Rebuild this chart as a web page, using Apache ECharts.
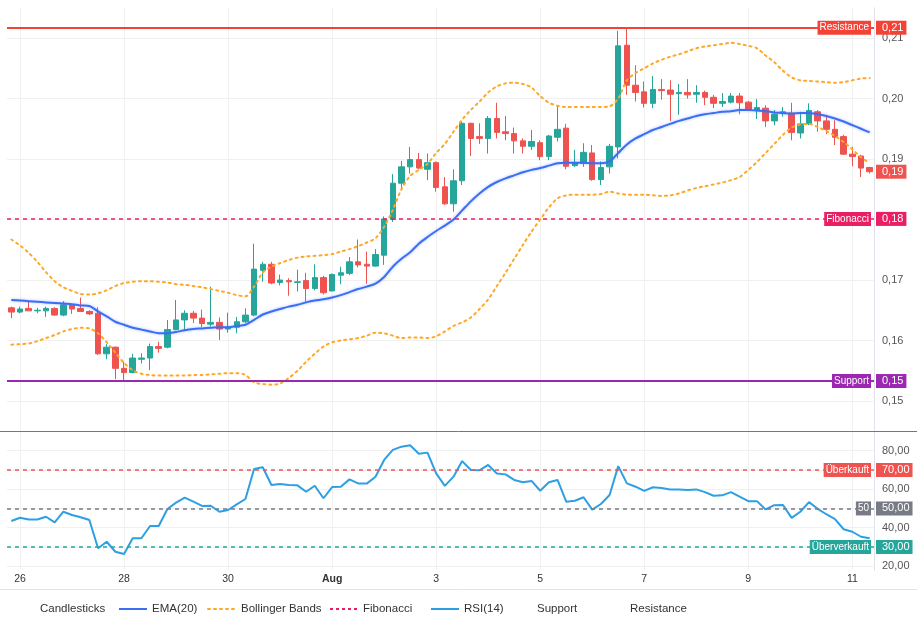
<!DOCTYPE html>
<html>
<head>
<meta charset="utf-8">
<title>Kurs 4h</title>
<script src="https://cdn.jsdelivr.net/npm/echarts/dist/echarts.min.js"></script>
<style>
  html, body { margin: 0; padding: 0; background: #fff; }
  #chart { width: 917px; height: 620px; }
</style>
</head>
<body>
<div id="chart"></div>
<script>
// 4h-Kerzen ab 25.07. 20:00 (100 Stück)
var opens = [0.1654,0.1647,0.1653,0.1649,0.1649,0.1653,0.1642,0.1659,0.1653,0.1648,
  0.1645,0.1578,0.1589,0.1554,0.1547,0.1569,0.1571,0.1590,0.1589,0.1618,
  0.1634,0.1645,0.1637,0.1627,0.1630,0.1619,0.1622,0.1631,0.1642,0.1716,
  0.1726,0.1696,0.1699,0.1696,0.1699,0.1686,0.1704,0.1682,0.1708,0.1711,
  0.1730,0.1726,0.1723,0.1741,0.1800,0.1860,0.1887,0.1899,0.1883,0.1894,
  0.1854,0.1826,0.1864,0.1959,0.1937,0.1934,0.1967,0.1945,0.1942,0.1930,
  0.1921,0.1927,0.1904,0.1936,0.1951,0.1889,0.1893,0.1910,0.1866,0.1887,
  0.1920,0.2088,0.2022,0.2011,0.1992,0.2015,0.2014,0.2008,0.2010,0.2007,
  0.2010,0.2002,0.1992,0.1994,0.2004,0.1994,0.1981,0.1984,0.1963,0.1975,
  0.1976,0.1943,0.1958,0.1978,0.1963,0.1949,0.1937,0.1908,0.1905,0.1886];
var closes = [0.1647,0.1652,0.1649,0.1650,0.1653,0.1642,0.1659,0.1652,0.1648,0.1644,
  0.1578,0.1589,0.1554,0.1547,0.1571,0.1571,0.1590,0.1587,0.1618,0.1634,
  0.1645,0.1637,0.1628,0.1630,0.1619,0.1622,0.1631,0.1642,0.1718,0.1726,
  0.1695,0.1700,0.1697,0.1697,0.1686,0.1704,0.1679,0.1709,0.1712,0.1730,
  0.1725,0.1723,0.1742,0.1801,0.1860,0.1887,0.1899,0.1885,0.1894,0.1853,
  0.1826,0.1864,0.1959,0.1934,0.1934,0.1967,0.1944,0.1942,0.1930,0.1921,
  0.1929,0.1904,0.1938,0.1949,0.1888,0.1894,0.1911,0.1866,0.1886,0.1921,
  0.2087,0.2022,0.2010,0.1992,0.2015,0.2013,0.2007,0.2010,0.2006,0.2010,
  0.2002,0.1992,0.1995,0.2004,0.1993,0.1981,0.1985,0.1963,0.1974,0.1978,
  0.1944,0.1958,0.1980,0.1963,0.1949,0.1936,0.1908,0.1904,0.1885,0.1879];
var lows = [0.1637,0.1645,0.1649,0.1645,0.1639,0.1641,0.1640,0.1644,0.1647,0.1642,
  0.1576,0.1569,0.1536,0.1534,0.1546,0.1562,0.1551,0.1580,0.1587,0.1617,
  0.1617,0.1629,0.1622,0.1623,0.1601,0.1613,0.1612,0.1629,0.1640,0.1697,
  0.1693,0.1691,0.1674,0.1681,0.1664,0.1683,0.1676,0.1681,0.1693,0.1708,
  0.1721,0.1694,0.1722,0.1725,0.1796,0.1849,0.1876,0.1883,0.1865,0.1846,
  0.1824,0.1813,0.1857,0.1905,0.1925,0.1909,0.1934,0.1931,0.1909,0.1909,
  0.1915,0.1898,0.1898,0.1929,0.1883,0.1887,0.1887,0.1864,0.1857,0.1876,
  0.1901,0.2006,0.1995,0.1985,0.1984,0.1998,0.1963,0.1973,0.2000,0.1993,
  0.1989,0.1984,0.1986,0.1992,0.1974,0.1980,0.1966,0.1953,0.1956,0.1970,
  0.1931,0.1934,0.1956,0.1945,0.1941,0.1923,0.1907,0.1888,0.1870,0.1876];
var highs = [0.1656,0.1656,0.1666,0.1654,0.1656,0.1655,0.1665,0.1660,0.1671,0.1650,
  0.1655,0.1594,0.1590,0.1565,0.1578,0.1579,0.1595,0.1598,0.1634,0.1667,
  0.1650,0.1649,0.1651,0.1689,0.1638,0.1646,0.1639,0.1653,0.1760,0.1730,
  0.1730,0.1709,0.1703,0.1717,0.1712,0.1726,0.1707,0.1711,0.1722,0.1738,
  0.1767,0.1747,0.1751,0.1805,0.1875,0.1897,0.1920,0.1910,0.1909,0.1896,
  0.1870,0.1883,0.1962,0.1960,0.1959,0.1971,0.1993,0.1971,0.1952,0.1934,
  0.1948,0.1931,0.1940,0.1989,0.1958,0.1915,0.1926,0.1923,0.1896,0.1925,
  0.2112,0.2118,0.2055,0.2028,0.2037,0.2032,0.2030,0.2024,0.2032,0.2022,
  0.2013,0.2006,0.2009,0.2009,0.2009,0.1996,0.1999,0.1989,0.1981,0.1986,
  0.1993,0.1978,0.1992,0.1981,0.1973,0.1964,0.1940,0.1920,0.1907,0.1887];

// Indikatoren
var ema20 = [0.1667,0.1666,0.1665,0.1664,0.1663,0.1662,0.1661,0.1660,0.1658,0.1657,
  0.1648,0.1640,0.1631,0.1626,0.1621,0.1618,0.1615,0.1612,0.1612,0.1614,
  0.1617,0.1619,0.1620,0.1621,0.1622,0.1622,0.1624,0.1626,0.1634,0.1643,
  0.1648,0.1652,0.1656,0.1659,0.1663,0.1666,0.1668,0.1671,0.1675,0.1680,
  0.1685,0.1689,0.1694,0.1705,0.1722,0.1735,0.1746,0.1760,0.1771,0.1781,
  0.1790,0.1800,0.1815,0.1830,0.1843,0.1854,0.1862,0.1868,0.1873,0.1878,
  0.1882,0.1885,0.1889,0.1893,0.1894,0.1894,0.1894,0.1893,0.1893,0.1896,
  0.1910,0.1924,0.1934,0.1941,0.1948,0.1953,0.1958,0.1963,0.1967,0.1971,
  0.1974,0.1976,0.1978,0.1979,0.1981,0.1981,0.1980,0.1979,0.1977,0.1976,
  0.1975,0.1976,0.1976,0.1974,0.1971,0.1967,0.1962,0.1956,0.1950,0.1944];
var bbUpper = [0.1767,0.1757,0.1745,0.1730,0.1713,0.1698,0.1688,0.1682,0.1677,0.1676,
  0.1678,0.1683,0.1690,0.1695,0.1697,0.1698,0.1698,0.1697,0.1696,0.1693,
  0.1692,0.1690,0.1688,0.1685,0.1682,0.1679,0.1675,0.1673,0.1689,0.1712,
  0.1722,0.1728,0.1733,0.1737,0.1739,0.1740,0.1741,0.1743,0.1747,0.1751,
  0.1756,0.1762,0.1769,0.1788,0.1816,0.1850,0.1872,0.1882,0.1892,0.1910,
  0.1925,0.1945,0.1965,0.1981,0.1995,0.2010,0.2020,0.2025,0.2026,0.2024,
  0.2018,0.2004,0.1993,0.1988,0.1986,0.1986,0.1986,0.1986,0.1986,0.1987,
  0.2000,0.2030,0.2042,0.2050,0.2058,0.2064,0.2069,0.2073,0.2078,0.2083,
  0.2086,0.2088,0.2090,0.2092,0.2090,0.2087,0.2083,0.2071,0.2060,0.2046,
  0.2035,0.2030,0.2029,0.2028,0.2027,0.2026,0.2027,0.2030,0.2033,0.2034];
var bbLower = [0.1593,0.1594,0.1595,0.1599,0.1604,0.1609,0.1615,0.1619,0.1621,0.1620,
  0.1612,0.1597,0.1580,0.1563,0.1551,0.1545,0.1543,0.1542,0.1542,0.1542,
  0.1542,0.1543,0.1543,0.1544,0.1545,0.1546,0.1546,0.1543,0.1531,0.1528,
  0.1527,0.1529,0.1538,0.1550,0.1565,0.1578,0.1590,0.1597,0.1600,0.1602,
  0.1604,0.1608,0.1613,0.1612,0.1608,0.1604,0.1605,0.1605,0.1604,0.1607,
  0.1615,0.1624,0.1630,0.1638,0.1652,0.1668,0.1690,0.1712,0.1735,0.1758,
  0.1780,0.1800,0.1820,0.1835,0.1840,0.1841,0.1841,0.1841,0.1842,0.1846,
  0.1843,0.1841,0.1841,0.1841,0.1840,0.1839,0.1840,0.1843,0.1848,0.1852,
  0.1855,0.1858,0.1861,0.1865,0.1870,0.1882,0.1895,0.1910,0.1925,0.1940,
  0.1952,0.1957,0.1958,0.1953,0.1946,0.1938,0.1928,0.1916,0.1903,0.1893];
var rsi14 = [43.5,45.2,44.3,44.3,45.7,42.8,48.3,46.6,45.4,44.0,
  29.3,32.7,27.5,26.3,34.5,34.5,40.9,40.9,49.7,53.0,
  55.6,53.5,51.3,51.4,48.3,49.2,52.1,54.9,70.5,71.4,
  62.2,62.7,62.2,62.0,58.7,61.8,55.3,61.1,61.3,65.1,
  63.0,62.9,66.5,75.2,80.4,82.1,82.8,78.4,79.0,68.2,
  61.7,66.5,74.6,70.0,69.8,72.6,68.2,67.7,64.8,63.6,
  64.3,59.2,63.6,64.8,53.5,54.0,55.8,49.4,52.3,57.0,
  72.0,63.0,61.3,59.1,61.0,60.6,59.9,59.9,59.6,59.9,
  58.5,56.6,56.8,58.5,56.1,53.8,53.8,49.5,51.7,51.8,
  45.1,48.3,53.3,49.8,47.0,44.5,39.2,37.9,35.3,34.5];

// Level
var resistanceLevel = 0.2117;
var supportLevel = 0.1533;
var fibLevel = 0.1801;
var overboughtLevel = 70;
var midLevel = 50;
var oversoldLevel = 30;

var startTime = Date.UTC(2024, 6, 25, 20, 0); // erste Kerze
var monthNames = ['Jan', 'Feb', 'Mar', 'Apr', 'May', 'Jun', 'Jul', 'Aug', 'Sep', 'Oct', 'Nov', 'Dec'];
var legendNames = ['Candlesticks', 'EMA(20)', 'Bollinger Bands', 'Fibonacci', 'RSI(14)', 'Support', 'Resistance'];
var legendLeft = [7, 118, 207, 329, 430, 504, 597];

function pad(n) { return n < 10 ? '0' + n : '' + n; }

var categories = opens.map(function (o, i) {
  var d = new Date(startTime + i * 4 * 3600 * 1000);
  return d.getUTCFullYear() + '-' + pad(d.getUTCMonth() + 1) + '-' + pad(d.getUTCDate()) + ' ' + pad(d.getUTCHours()) + ':00';
});
var candles = opens.map(function (o, i) { return [o, closes[i], lows[i], highs[i]]; });

var UP = '#26a69a', DOWN = '#ef5350';
var FONT = 'Liberation Sans, Arial, sans-serif';
var HIDDEN = 'rgba(0,0,0,0)';

function comma(v, digits) { return v.toFixed(digits).replace('.', ','); }

// nur Tagesbeginn jedes zweiten Tages beschriften
function dayTick(index) { return index % 12 === 1; }

// Namensschild im Chart
function nameTag(text, bg) {
  return {
    show: true, position: 'insideEnd', formatter: text, distance: 3,
    color: '#fff', backgroundColor: bg, fontFamily: FONT, fontSize: 10,
    lineHeight: 11, padding: [2, 2, 1, 2]
  };
}
// Wertschild auf der Preisachse
function valueTag(text, bg) {
  return {
    show: true, position: 'end', formatter: text, distance: 2,
    color: '#fff', backgroundColor: bg, fontFamily: FONT, fontSize: 11,
    lineHeight: 12, padding: [1, 3, 1, 6]
  };
}

function levelLine(value, name, valueText, color, type, width) {
  return {
    silent: true, symbol: ['none', 'none'], animation: false, precision: 4,
    lineStyle: { color: color, type: type, width: width },
    data: [
      { yAxis: value, label: nameTag(name, color) },
      { yAxis: value, label: valueTag(valueText, color), lineStyle: { color: HIDDEN } }
    ]
  };
}

var chart = echarts.init(document.getElementById('chart'));

// jede Legende einzeln platziert
var legends = legendNames.map(function (name, i) {
  var noIcon = name === 'Candlesticks' || name === 'Support' || name === 'Resistance';
  return {
    left: legendLeft[i], top: 603, itemWidth: 28, itemHeight: 10, padding: 0,
    textStyle: { fontFamily: FONT, fontSize: 11.5, color: '#333' },
    itemStyle: { opacity: 0 },
    data: [noIcon ? { name: name, icon: 'none' } : name]
  };
});

var option = {
  backgroundColor: '#fff',
  animation: false,
  legend: legends,
  grid: [
    { left: 7, right: 43, top: 7.75, height: 423.5 },
    { left: 7, right: 43, top: 431.45, height: 138.6 }
  ],
  xAxis: [
    {
      type: 'category', gridIndex: 0, data: categories, boundaryGap: true,
      axisLine: { show: false }, axisTick: { show: false }, axisLabel: { show: false },
      splitLine: { show: true, interval: dayTick, alignWithLabel: true, lineStyle: { color: '#f0f0f0' } }
    },
    {
      type: 'category', gridIndex: 1, data: categories, boundaryGap: true,
      axisLine: { show: false }, axisTick: { show: false },
      axisLabel: {
        interval: dayTick, margin: 4, color: '#333', fontFamily: FONT, fontSize: 10.5,
        formatter: function (value) {
          var day = +value.slice(8, 10);
          var m = +value.slice(5, 7) - 1;
          return day === 1 ? '{m|' + monthNames[m] + '}' : String(day);
        },
        rich: { m: { fontWeight: 'bold', fontFamily: FONT, fontSize: 10.5, color: '#333' } }
      },
      splitLine: { show: true, interval: dayTick, alignWithLabel: true, lineStyle: { color: '#f0f0f0' } }
    }
  ],
  yAxis: [
    {
      type: 'value', gridIndex: 0, position: 'right', min: 0.145, max: 0.215, interval: 0.005,
      axisLine: { show: true, lineStyle: { color: '#e0e3eb' } }, axisTick: { show: false },
      axisLabel: {
        margin: 8, color: '#555', fontFamily: FONT, fontSize: 11,
        formatter: function (v) {
          var c = v * 100;
          return Math.abs(c - Math.round(c)) > 1e-6 ? '' : comma(v, 2);
        }
      },
      splitLine: { show: true, lineStyle: { color: [HIDDEN, '#f0f0f0'] } }
    },
    {
      type: 'value', gridIndex: 1, position: 'right', min: 18, max: 90, interval: 1,
      axisLine: { show: true, lineStyle: { color: '#e0e3eb' } }, axisTick: { show: false },
      axisLabel: {
        margin: 8, color: '#555', fontFamily: FONT, fontSize: 11,
        formatter: function (v) {
          return (v % 10 === 0 && v >= 20 && v <= 80) ? comma(v, 2) : '';
        }
      },
      splitLine: {
        show: true,
        lineStyle: { color: [HIDDEN, HIDDEN, '#f0f0f0', HIDDEN, HIDDEN, HIDDEN, HIDDEN, HIDDEN, HIDDEN, HIDDEN] }
      }
    }
  ],
  series: [
    {
      name: 'Candlesticks', type: 'candlestick', xAxisIndex: 0, yAxisIndex: 0,
      data: candles, barWidth: 6,
      itemStyle: { color: UP, color0: DOWN, borderColor: UP, borderColor0: DOWN, borderWidth: 1 },
      markLine: {
        silent: true, symbol: ['none', 'none'], animation: false, precision: 4,
        data: [{
          yAxis: closes[closes.length - 1], lineStyle: { color: HIDDEN },
          label: valueTag(comma(closes[closes.length - 1], 2), DOWN)
        }]
      },
      z: 3
    },
    {
      name: 'EMA(20)', type: 'line', xAxisIndex: 0, yAxisIndex: 0, data: ema20,
      symbol: 'none', smooth: 0.3,
      lineStyle: { color: '#3b6ef5', width: 2, shadowColor: 'rgba(59,110,245,0.45)', shadowBlur: 3 },
      itemStyle: { color: '#3b6ef5', opacity: 0 }, z: 4
    },
    {
      name: 'Bollinger Bands', type: 'line', xAxisIndex: 0, yAxisIndex: 0, data: bbUpper,
      symbol: 'none', smooth: 0.3,
      lineStyle: { color: '#ffa726', width: 2, type: [2, 4], cap: 'round' },
      itemStyle: { color: '#ffa726', opacity: 0 }, z: 4
    },
    {
      name: 'Bollinger Bands', type: 'line', xAxisIndex: 0, yAxisIndex: 0, data: bbLower,
      symbol: 'none', smooth: 0.3,
      lineStyle: { color: '#ffa726', width: 2, type: [2, 4], cap: 'round' },
      itemStyle: { color: '#ffa726', opacity: 0 }, z: 4
    },
    {
      name: 'Fibonacci', type: 'line', xAxisIndex: 0, yAxisIndex: 0, data: [], symbol: 'none',
      lineStyle: { color: '#e91e63', width: 1.5, type: [3, 3] }, itemStyle: { color: '#e91e63', opacity: 0 },
      markLine: levelLine(fibLevel, 'Fibonacci', comma(fibLevel, 2), '#e91e63', [4, 4], 1.5), z: 5
    },
    {
      name: 'RSI(14)', type: 'line', xAxisIndex: 1, yAxisIndex: 1, data: rsi14, symbol: 'none',
      lineStyle: { color: '#2d9fe3', width: 2 }, itemStyle: { color: '#2d9fe3', opacity: 0 },
      markLine: {
        silent: true, symbol: ['none', 'none'], animation: false, precision: 2,
        data: [
          { yAxis: overboughtLevel, lineStyle: { color: DOWN, type: [4, 4], width: 1.5 }, label: nameTag('Überkauft', DOWN) },
          { yAxis: overboughtLevel, lineStyle: { color: HIDDEN }, label: valueTag(comma(overboughtLevel, 2), DOWN) },
          { yAxis: midLevel, lineStyle: { color: '#787b86', type: [4, 4], width: 1.5 }, label: nameTag('50', '#787b86') },
          { yAxis: midLevel, lineStyle: { color: HIDDEN }, label: valueTag(comma(midLevel, 2), '#787b86') },
          { yAxis: oversoldLevel, lineStyle: { color: UP, type: [4, 4], width: 1.5 }, label: nameTag('Überverkauft', UP) },
          { yAxis: oversoldLevel, lineStyle: { color: HIDDEN }, label: valueTag(comma(oversoldLevel, 2), UP) }
        ]
      },
      z: 4
    },
    {
      name: 'Support', type: 'line', xAxisIndex: 0, yAxisIndex: 0, data: [], symbol: 'none',
      lineStyle: { color: '#9c27b0', width: 2 }, itemStyle: { color: '#9c27b0', opacity: 0 },
      markLine: levelLine(supportLevel, 'Support', comma(supportLevel, 2), '#9c27b0', 'solid', 2), z: 5
    },
    {
      name: 'Resistance', type: 'line', xAxisIndex: 0, yAxisIndex: 0, data: [], symbol: 'none',
      lineStyle: { color: '#f44336', width: 2 }, itemStyle: { color: '#f44336', opacity: 0 },
      markLine: levelLine(resistanceLevel, 'Resistance', comma(resistanceLevel, 2), '#f44336', 'solid', 2), z: 5
    }
  ],
  graphic: [
    { type: 'line', shape: { x1: 0, y1: 431.5, x2: 917, y2: 431.5 }, style: { stroke: '#777', lineWidth: 1 }, z: 10 },
    { type: 'line', shape: { x1: 0, y1: 589.5, x2: 917, y2: 589.5 }, style: { stroke: '#e0e3eb', lineWidth: 1 } }
  ]
};

chart.setOption(option);
</script>
</body>
</html>
